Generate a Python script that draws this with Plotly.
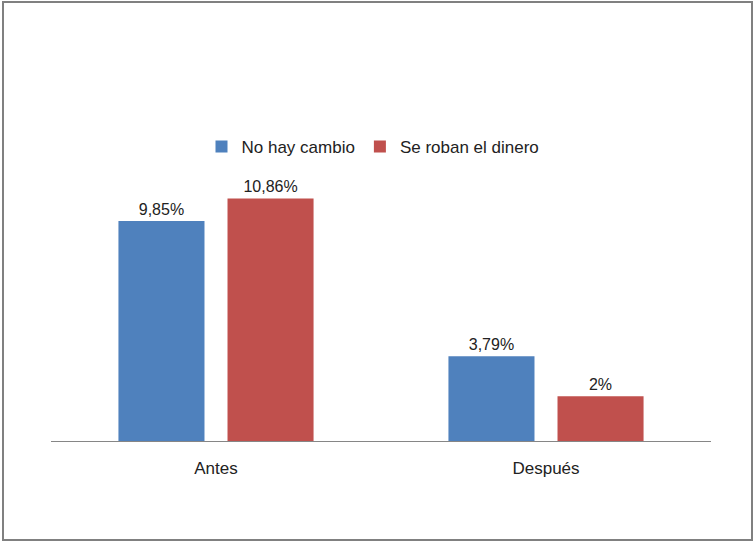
import plotly.graph_objects as go

categories = ["Antes", "Después"]
series_names = ["No hay cambio", "Se roban el dinero"]
no_hay_cambio = [9.85, 3.79]
se_roban = [10.86, 2.0]
labels_no_hay = ["9,85%", "3,79%"]
labels_se_roban = ["10,86%", "2%"]
colors = ["#4F81BD", "#C0504D"]

W, H = 754, 542
L, R, T, B = 51, 43, 173, 101
pw, ph = W - L - R, H - T - B

fig = go.Figure()
for name, vals, labs, col in zip(series_names, [no_hay_cambio, se_roban],
                                 [labels_no_hay, labels_se_roban], colors):
    fig.add_trace(go.Bar(
        x=categories, y=vals, name=name, marker_color=col, marker_line_width=0,
        text=labs, textposition="outside", cliponaxis=False,
        textfont=dict(size=16, color="#222222"),
    ))

def px_x(p):
    return (p - L) / pw

def px_y(p):
    return (H - B - p) / ph

fig.update_layout(
    width=W, height=H,
    margin=dict(l=L, r=R, t=T, b=B),
    paper_bgcolor="white", plot_bgcolor="white",
    font=dict(family="Liberation Sans, Arial, sans-serif", size=17, color="#222222"),
    barmode="group", bargap=0.339, bargroupgap=0.211,
    showlegend=True,
    legend=dict(orientation="h", x=px_x(373), y=px_y(147), xanchor="center",
                yanchor="middle", font=dict(size=17), itemwidth=30,
                traceorder="normal", itemclick=False),
    xaxis=dict(showline=True, linecolor="#868686", linewidth=1, ticks="",
               showgrid=False, tickfont=dict(size=17), ticklabelstandoff=12),
    yaxis=dict(range=[0, 12], visible=False, showgrid=False, zeroline=False),
    shapes=[dict(type="rect", xref="paper", yref="paper",
                 x0=px_x(3), x1=px_x(752), y0=px_y(540), y1=px_y(2),
                 line=dict(color="#808080", width=2), layer="below")],
)

fig.write_html("out.html", config={"displayModeBar": False},
               post_script="document.body.style.margin='0';document.body.style.padding='0';")
